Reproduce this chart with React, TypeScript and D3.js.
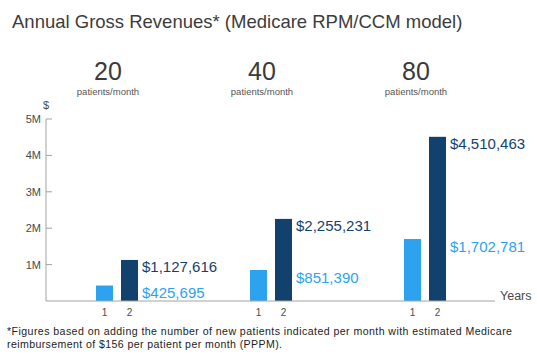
import React from "react";
import * as d3 from "d3";

const groups = ["20", "40", "80"];
const years = ["1", "2"];
const year1 = [425695, 851390, 1702781];
const year2 = [1127616, 2255231, 4510463];
const yTicks = [1e6, 2e6, 3e6, 4e6, 5e6];
const yTickLabels = ["1M", "2M", "3M", "4M", "5M"];
const title = "Annual Gross Revenues* (Medicare RPM/CCM model)";
const subLabel = "patients/month";
const footnote1 = "*Figures based on adding the number of new patients indicated per month with estimated Medicare";
const footnote2 = "reimbursement of $156 per patient per month (PPPM).";

const LIGHT = "#2da2ef";
const DARK = "#13416d";
const AX = "#a3a3a3";
const TXT = "#4a4a4a";
const FONT = "'Liberation Sans', Arial, sans-serif";

export default function App() {
  const W = 540, H = 357;
  const y = d3.scaleLinear().domain([0, 5e6]).range([301, 119]);
  const x0 = d3.scalePoint<string>().domain(groups).range([117, 425]);
  const x1 = d3.scaleBand<string>().domain(years).range([-21, 21]).paddingInner(0.32);
  const bw = x1.bandwidth();
  const fmt = d3.format("$,");
  const axisX0 = 46, axisX1 = 495;

  return (
    <svg width={W} height={H} style={{ position: "absolute", left: 0, top: 0, background: "#fff" }} fontFamily={FONT}>
      <text x={12} y={27.5} fontSize={18.5} fill="#3c3c3c">{title}</text>

      {groups.map((g) => {
        const cx = (x0(g) as number) - 9;
        return (
          <g key={"h" + g}>
            <text x={cx} y={80} textAnchor="middle" fontSize={25} fill="#3a3a3a">{g}</text>
            <text x={cx} y={95} textAnchor="middle" fontSize={9.5} fill="#555">{subLabel}</text>
          </g>
        );
      })}

      {/* y axis */}
      <line x1={axisX0} x2={axisX0} y1={y(5e6)} y2={y(0)} stroke={AX} strokeWidth={1} />
      <text x={axisX0} y={109} textAnchor="middle" fontSize={11} fill={TXT}>$</text>
      {yTicks.map((t, i) => (
        <g key={t}>
          <line x1={axisX0} x2={axisX0 + 6} y1={y(t)} y2={y(t)} stroke={AX} />
          <text x={41} y={y(t) + 4} textAnchor="end" fontSize={11} fill={TXT}>{yTickLabels[i]}</text>
        </g>
      ))}

      {/* bars */}
      {groups.map((g, i) => {
        const gx = x0(g) as number;
        const b1x = gx + (x1("1") as number);
        const b2x = gx + (x1("2") as number);
        return (
          <g key={"b" + g}>
            <rect x={b1x} y={y(year1[i])} width={bw} height={y(0) - y(year1[i])} fill={LIGHT} />
            <rect x={b2x} y={y(year2[i])} width={bw} height={y(0) - y(year2[i])} fill={DARK} />
            <text x={b2x + bw + 4} y={y(year2[i]) + 12.5} fontSize={15} fill={DARK}>{fmt(year2[i])}</text>
            <text x={b2x + bw + 4} y={y(year1[i]) + 12.5} fontSize={15} fill={LIGHT}>{fmt(year1[i])}</text>
            {years.map((yr) => (
              <text key={yr} x={gx + (x1(yr) as number) + bw / 2} y={316} textAnchor="middle" fontSize={10} fill={TXT}>{yr}</text>
            ))}
          </g>
        );
      })}

      {/* x axis */}
      <line x1={axisX0} x2={axisX1} y1={y(0)} y2={y(0)} stroke={AX} strokeWidth={1.2} />
      <text x={500} y={300} fontSize={12.5} fill={TXT}>Years</text>

      <text x={7} y={334.5} fontSize={10.6} fill="#222" textLength={505} lengthAdjust="spacing">{footnote1}</text>
      <text x={7} y={347.5} fontSize={10.6} fill="#222" textLength={275} lengthAdjust="spacing">{footnote2}</text>
    </svg>
  );
}
